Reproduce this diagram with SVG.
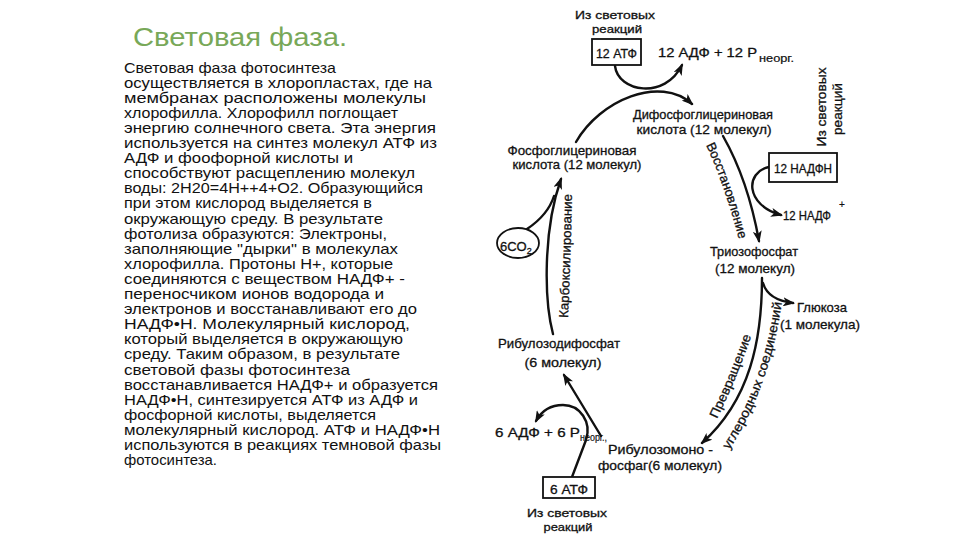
<svg xmlns="http://www.w3.org/2000/svg" width="960" height="540" viewBox="0 0 960 540">
<style>
.ttl{font-family:'Liberation Sans',Arial,sans-serif;font-size:26px;fill:#78a858}
.b{font-family:'Liberation Sans',Arial,sans-serif;font-size:15px;fill:#111}
.t{font-family:'Liberation Sans',Arial,sans-serif;font-size:13px;fill:#111;stroke:#111;stroke-width:0.3}
.r{font-family:'Liberation Sans',Arial,sans-serif;font-size:11.5px;fill:#111;stroke:#111;stroke-width:0.3}
.s{font-family:'Liberation Sans',Arial,sans-serif;font-size:10px;fill:#111;stroke:#111;stroke-width:0.2}
.m{text-anchor:middle}
.ln{fill:none;stroke:#111;stroke-width:2.4;stroke-linecap:round}
.box{fill:#fff;stroke:#111;stroke-width:1.8}
</style>
<defs>
<marker id="ah" markerUnits="userSpaceOnUse" markerWidth="12" markerHeight="9" refX="10" refY="4.5" orient="auto">
<path d="M0,0 L12,4.5 L0,9 L3,4.5 Z" fill="#111"/>
</marker>
<path id="pVos" d="M706,145 Q725,186 739,240"/>
<path id="pKarb" d="M568,318 Q571,255 572,192"/>
<path id="pPrev" d="M717,419 Q737,378 752,334"/>
<path id="pUgl" d="M729,450 Q770,388 782,301"/>
</defs>
<rect width="960" height="540" fill="#fff"/>

<g id="left-text">
<text class="ttl" x="133" y="46" textLength="214" lengthAdjust="spacingAndGlyphs">Световая фаза.</text>
<g class="b">
<text x="124" y="72.5" textLength="212" lengthAdjust="spacingAndGlyphs">Световая фаза фотосинтеза</text>
<text x="124" y="87.6" textLength="308" lengthAdjust="spacingAndGlyphs">осуществляется в хлоропластах, где на</text>
<text x="124" y="102.7" textLength="302" lengthAdjust="spacingAndGlyphs">мембранах расположены молекулы</text>
<text x="124" y="117.8" textLength="274" lengthAdjust="spacingAndGlyphs">хлорофилла. Хлорофилл поглощает</text>
<text x="124" y="132.9" textLength="312" lengthAdjust="spacingAndGlyphs">энергию солнечного света. Эта энергия</text>
<text x="124" y="148" textLength="313" lengthAdjust="spacingAndGlyphs">используется на синтез молекул АТФ из</text>
<text x="124" y="163.1" textLength="229" lengthAdjust="spacingAndGlyphs">АДФ и фоофорной кислоты и</text>
<text x="124" y="178.2" textLength="291" lengthAdjust="spacingAndGlyphs">способствуют расщеплению молекул</text>
<text x="124" y="193.3" textLength="299" lengthAdjust="spacingAndGlyphs">воды: 2H20=4H++4+O2. Образующийся</text>
<text x="124" y="208.4" textLength="248" lengthAdjust="spacingAndGlyphs">при этом кислород выделяется в</text>
<text x="124" y="223.5" textLength="259" lengthAdjust="spacingAndGlyphs">окружающую среду. В результате</text>
<text x="124" y="238.6" textLength="263" lengthAdjust="spacingAndGlyphs">фотолиза образуются: Электроны,</text>
<text x="124" y="253.7" textLength="274" lengthAdjust="spacingAndGlyphs">заполняющие "дырки" в молекулах</text>
<text x="124" y="268.8" textLength="269" lengthAdjust="spacingAndGlyphs">хлорофилла. Протоны Н+, которые</text>
<text x="124" y="283.9" textLength="281" lengthAdjust="spacingAndGlyphs">соединяются с веществом НАДФ+ -</text>
<text x="124" y="299" textLength="260" lengthAdjust="spacingAndGlyphs">переносчиком ионов водорода и</text>
<text x="124" y="314.1" textLength="293" lengthAdjust="spacingAndGlyphs">электронов и восстанавливают его до</text>
<text x="124" y="329.2" textLength="286" lengthAdjust="spacingAndGlyphs">НАДФ•Н. Молекулярный кислород,</text>
<text x="124" y="344.3" textLength="279" lengthAdjust="spacingAndGlyphs">который выделяется в окружающую</text>
<text x="124" y="359.4" textLength="276" lengthAdjust="spacingAndGlyphs">среду. Таким образом, в результате</text>
<text x="124" y="374.5" textLength="226" lengthAdjust="spacingAndGlyphs">световой фазы фотосинтеза</text>
<text x="124" y="389.6" textLength="314" lengthAdjust="spacingAndGlyphs">восстанавливается НАДФ+ и образуется</text>
<text x="124" y="404.7" textLength="294" lengthAdjust="spacingAndGlyphs">НАДФ•Н, синтезируется АТФ из АДФ и</text>
<text x="124" y="419.8" textLength="252" lengthAdjust="spacingAndGlyphs">фосфорной кислоты, выделяется</text>
<text x="124" y="434.9" textLength="316" lengthAdjust="spacingAndGlyphs">молекулярный кислород. АТФ и НАДФ•Н</text>
<text x="124" y="450" textLength="317" lengthAdjust="spacingAndGlyphs">используются в реакциях темновой фазы</text>
<text x="124" y="465.1" textLength="93" lengthAdjust="spacingAndGlyphs">фотосинтеза.</text>
</g>
</g>

<g id="connectors">
<path class="ln" d="M615,66 C618,92 665,100 682,65" marker-end="url(#ah)"/>
<path class="ln" d="M576,142 C600,100 660,75 692,104" marker-end="url(#ah)"/>
<path class="ln" d="M723,136 Q748,180 759,241" marker-end="url(#ah)"/>
<path class="ln" d="M769,167 C745,172 745,205 781,215" marker-end="url(#ah)"/>
<path class="ln" d="M762,278 C762,340 750,400 702,443" marker-end="url(#ah)"/>
<path class="ln" d="M763,283 Q768,300 793,303" marker-end="url(#ah)"/>
<path class="ln" d="M601,436 L564,375" marker-end="url(#ah)"/>
<path class="ln" d="M572,477 L586,440 C592,422 580,405 563,405 C550,405 542,410 536,421" marker-end="url(#ah)"/>
<path class="ln" d="M553,334 C544,300 543,230 561,179" marker-end="url(#ah)"/>
<path class="ln" d="M527,229 Q548,215 554,196"/>
</g>

<g id="atp12">
<text class="r m" x="615" y="19" textLength="80" lengthAdjust="spacingAndGlyphs">Из световых</text>
<text class="r m" x="617" y="33" textLength="50" lengthAdjust="spacingAndGlyphs">реакций</text>
<rect class="box" x="592" y="39" width="49" height="26"/>
<text class="t m" x="616.5" y="58" textLength="41" lengthAdjust="spacingAndGlyphs">12 АТФ</text>
</g>

<g id="adp12">
<text class="t" x="658" y="57" textLength="99" lengthAdjust="spacingAndGlyphs">12 АДФ + 12 P</text>
<text class="s" x="759" y="62" textLength="35" lengthAdjust="spacingAndGlyphs">неорг.</text>
</g>

<g id="dpga">
<text class="t m" x="703" y="119" textLength="140" lengthAdjust="spacingAndGlyphs">Дифосфоглицериновая</text>
<text class="t m" x="704" y="134" textLength="135" lengthAdjust="spacingAndGlyphs">кислота (12 молекул)</text>
</g>

<g id="light-right">
<text class="t m" transform="translate(826,107) rotate(-90)" textLength="79" lengthAdjust="spacingAndGlyphs">Из световых</text>
<text class="t m" transform="translate(842,109) rotate(-90)" textLength="52" lengthAdjust="spacingAndGlyphs">реакций</text>
</g>

<g id="nadph">
<rect class="box" x="769" y="153" width="68" height="29"/>
<text class="t m" x="803" y="173" textLength="58" lengthAdjust="spacingAndGlyphs">12 НАДФН</text>
</g>

<g id="nadp">
<text class="t" x="783" y="220" textLength="48" lengthAdjust="spacingAndGlyphs">12 НАДФ</text>
<text class="s" x="839" y="208">+</text>
</g>

<g id="triose">
<text class="t m" x="754" y="256" textLength="88" lengthAdjust="spacingAndGlyphs">Триозофосфат</text>
<text class="t m" x="755" y="273" textLength="80" lengthAdjust="spacingAndGlyphs">(12 молекул)</text>
</g>

<g id="glucose">
<text class="t m" x="822" y="312" textLength="50" lengthAdjust="spacingAndGlyphs">Глюкоза</text>
<text class="t m" x="820" y="329" textLength="80" lengthAdjust="spacingAndGlyphs">(1 молекула)</text>
</g>

<g id="rump">
<text class="t" x="608" y="454" textLength="105" lengthAdjust="spacingAndGlyphs">Рибулозомоно -</text>
<text class="t" x="598" y="470" textLength="124" lengthAdjust="spacingAndGlyphs">фосфаг(6 молекул)</text>
</g>

<g id="adp6">
<text class="t" x="495" y="437" textLength="85" lengthAdjust="spacingAndGlyphs">6 АДФ + 6 P</text>
<text class="s" x="580" y="441" textLength="27" lengthAdjust="spacingAndGlyphs">неорг.,</text>
</g>

<g id="atp6">
<rect class="box" x="543" y="477" width="52" height="21"/>
<text class="t m" x="569" y="494" textLength="38" lengthAdjust="spacingAndGlyphs">6 АТФ</text>
<text class="r m" x="567" y="517" textLength="80" lengthAdjust="spacingAndGlyphs">Из световых</text>
<text class="r m" x="568" y="531" textLength="49" lengthAdjust="spacingAndGlyphs">реакций</text>
</g>

<g id="rudp">
<text class="t m" x="559" y="348" textLength="122" lengthAdjust="spacingAndGlyphs">Рибулозодифосфат</text>
<text class="t m" x="563" y="367" textLength="77" lengthAdjust="spacingAndGlyphs">(6 молекул)</text>
</g>

<g id="pga">
<text class="t m" x="572" y="155" textLength="129" lengthAdjust="spacingAndGlyphs">Фосфоглицериновая</text>
<text class="t m" x="577" y="169" textLength="129" lengthAdjust="spacingAndGlyphs">кислота (12 молекул)</text>
</g>

<g id="co2">
<ellipse cx="518" cy="243" rx="21" ry="15" fill="#fff" stroke="#111" stroke-width="1.8"/>
<text class="t" x="500" y="251">6CO<tspan font-size="9" dy="3">2</tspan></text>
</g>

<g id="process-labels">
<text class="t"><textPath href="#pVos" textLength="100" lengthAdjust="spacingAndGlyphs">Восстановление</textPath></text>
<text class="t"><textPath href="#pKarb" textLength="124" lengthAdjust="spacingAndGlyphs">Карбоксилирование</textPath></text>
<text class="t"><textPath href="#pPrev" textLength="90" lengthAdjust="spacingAndGlyphs">Превращение</textPath></text>
<text class="t"><textPath href="#pUgl" textLength="158" lengthAdjust="spacingAndGlyphs">углеродных соединений</textPath></text>
</g>
</svg>
